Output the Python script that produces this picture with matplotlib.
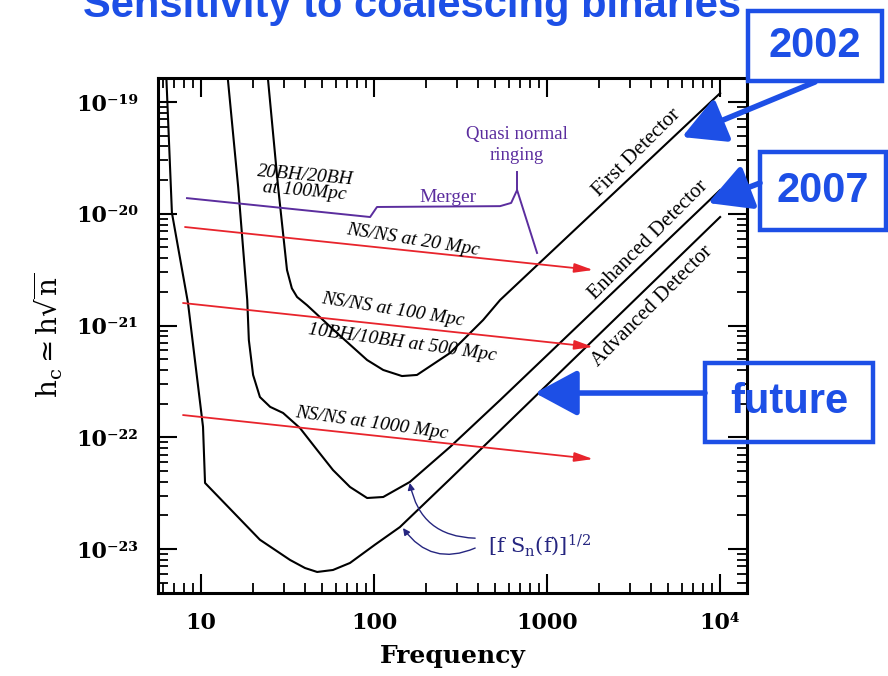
import numpy as np
import matplotlib.pyplot as plt
from matplotlib.patches import Rectangle, FancyArrowPatch
from matplotlib.ticker import LogLocator, NullFormatter

# detector noise curves, h_c vs frequency (Hz)
first_f = [23.8, 27.9, 31.4, 33.5, 35.9, 41.0, 61.1, 91.2, 113, 145, 177, 275, 427, 535, 10000]
first_h = [2.38e-19, 1.73e-20, 3.14e-21, 2.15e-21, 1.80e-21, 1.52e-21, 8.57e-22, 4.91e-22,
           4.00e-22, 3.53e-22, 3.61e-22, 5.68e-22, 1.12e-21, 1.69e-21, 1.20e-19]

enh_f = [13.95, 16.4, 18.5, 18.9, 20.0, 21.9, 25.1, 29.8, 37.3, 46.9, 57.9, 72.6, 91.2, 113,
         161, 275, 535, 10000]
enh_h = [2.38e-19, 1.73e-20, 1.69e-21, 7.41e-22, 3.61e-22, 2.29e-22, 1.87e-22, 1.65e-22,
         1.21e-22, 7.69e-23, 5.09e-23, 3.59e-23, 2.86e-23, 2.92e-23, 3.98e-23, 8.19e-23,
         2.15e-22, 1.63e-20]

adv_f = [6.28, 6.79, 8.41, 10.27, 10.55, 21.9, 32.7, 39.9, 46.9, 57.9, 72.6, 101, 141, 275, 10000]
adv_h = [1.93e-19, 1.02e-20, 1.59e-21, 1.24e-22, 3.90e-23, 1.21e-23, 7.98e-24, 6.76e-24,
         6.23e-24, 6.49e-24, 7.50e-24, 1.09e-23, 1.57e-23, 4.23e-23, 9.35e-21]

# NS/NS inspiral tracks (start -> end)
ns_start_f = [8.08, 7.87, 7.87]
ns_start_h = [7.61e-21, 1.59e-21, 1.58e-22]
ns_end_f = [1845, 1845, 1845]
ns_end_h = [3.14e-21, 6.43e-22, 6.38e-23]

# 20BH/20BH inspiral + merger + ringdown
bh_f = [8.30, 94.9, 104, 535, 620, 671, 875]
bh_h = [1.38e-20, 9.35e-21, 1.15e-20, 1.17e-20, 1.25e-20, 1.63e-20, 4.46e-21]
ring_f = [671, 671]
ring_h = [1.63e-20, 2.37e-20]

xticks = [10, 100, 1000, 1e4]
xticklabels = ['10', '100', '1000', '10\u2074']
yticks = [1e-23, 1e-22, 1e-21, 1e-20, 1e-19]
yticklabels = ['10\u207b\u00b2\u00b3', '10\u207b\u00b2\u00b2', '10\u207b\u00b2\u00b9',
               '10\u207b\u00b2\u2070', '10\u207b\u00b9\u2079']

plt.rcParams['mathtext.fontset'] = 'dejavuserif'
blue = '#1d4fe6'
red = '#e8242c'
purple = '#5b2d9e'
navy = '#262680'

fig = plt.figure(figsize=(8.88, 6.76), dpi=100)
ax = fig.add_axes([0.1779, 0.1228, 0.6633, 0.7618])
ax.set_xscale('log')
ax.set_yscale('log')
ax.set_xlim(5.64, 1.43e4)
ax.set_ylim(4.04e-24, 1.64e-19)

ax.plot(first_f, first_h, color='k', lw=1.5)
ax.plot(enh_f, enh_h, color='k', lw=1.5)
ax.plot(adv_f, adv_h, color='k', lw=1.5)

for f0, h0, f1, h1 in zip(ns_start_f, ns_start_h, ns_end_f, ns_end_h):
    ax.annotate('', xy=(f1, h1), xytext=(f0, h0),
                arrowprops=dict(arrowstyle='-|>,head_length=0.8,head_width=0.2', color=red,
                                lw=1.3, mutation_scale=14, shrinkA=0, shrinkB=0))

ax.plot(bh_f, bh_h, color=purple, lw=1.4)
ax.plot(ring_f, ring_h, color=purple, lw=1.4)

serif_it = dict(family='Liberation Serif', style='italic', fontsize=14)
ax.text(39.9, 1.88e-20, '20BH/20BH\nat 100Mpc', ha='center', va='center', rotation=-5,
        linespacing=0.9, **serif_it)
ax.text(268, 1.41e-20, 'Merger', ha='center', va='center', color=purple,
        family='Liberation Serif', fontsize=14)
ax.text(671, 4.12e-20, 'Quasi normal\nringing', ha='center', va='center', color=purple,
        family='Liberation Serif', fontsize=13.5, linespacing=1.25)
ax.text(168, 5.82e-21, 'NS/NS at 20 Mpc', ha='center', va='center', rotation=-9, **serif_it)
ax.text(129, 1.38e-21, 'NS/NS at 100 Mpc', ha='center', va='center', rotation=-9, **serif_it)
ax.text(145, 6.97e-22, '10BH/10BH at 500 Mpc', ha='center', va='center', rotation=-8, **serif_it)
ax.text(97.3, 1.34e-22, 'NS/NS at 1000 Mpc', ha='center', va='center', rotation=-8, **serif_it)

det = dict(family='Liberation Serif', fontsize=15, rotation=45, rotation_mode='anchor')
ax.text(3311, 3.50e-20, 'First Detector', ha='center', va='center', **det)
ax.text(3837, 5.82e-21, 'Enhanced Detector', ha='center', va='center', **det)
ax.text(4046, 1.47e-21, 'Advanced Detector', ha='center', va='center', **det)

ax.text(912, 1.09e-23, r'$[\mathrm{f\ S_n(f)}]^{1/2}$', ha='center', va='center',
        color=navy, fontsize=15)
ax.annotate('', xy=(161, 3.9e-23), xytext=(384, 1.25e-23),
            arrowprops=dict(arrowstyle='-|>', color=navy, lw=1.0, mutation_scale=10,
                            connectionstyle='arc3,rad=-0.4', shrinkA=0, shrinkB=0))
ax.annotate('', xy=(147, 1.54e-23), xytext=(384, 1.02e-23),
            arrowprops=dict(arrowstyle='-|>', color=navy, lw=1.0, mutation_scale=10,
                            connectionstyle='arc3,rad=-0.4', shrinkA=0, shrinkB=0))

ax.set_xticks(xticks)
ax.set_xticklabels(xticklabels, family='DejaVu Serif', fontweight='bold', fontsize=16)
ax.set_yticks(yticks)
ax.set_yticklabels(yticklabels, family='DejaVu Serif', fontweight='bold', fontsize=16)
ax.xaxis.set_minor_locator(LogLocator(base=10, subs=np.arange(2, 10), numticks=20))
ax.yaxis.set_minor_locator(LogLocator(base=10, subs=np.arange(2, 10), numticks=20))
ax.xaxis.set_minor_formatter(NullFormatter())
ax.yaxis.set_minor_formatter(NullFormatter())
ax.tick_params(which='both', direction='in', top=True, right=True)
ax.tick_params(which='major', length=14, width=1.5, pad=14)
ax.tick_params(which='minor', length=7, width=1.3)
for s in ax.spines.values():
    s.set_linewidth(2.2)

ax.set_xlabel('Frequency', family='DejaVu Serif', fontweight='bold', fontsize=18, labelpad=7)
ax.set_ylabel(r'$\mathrm{h_c \simeq h\sqrt{n}}$', fontsize=20, labelpad=8)

# blue slide annotations
fig.text(0.464, 1 - 17 / 676, 'Sensitivity to coalescing binaries', ha='center',
         va='baseline', fontsize=30, fontweight='bold', color=blue, family='Liberation Sans')

boxes = [((0.8423, 0.8802), 0.1509, 0.1035, '2002'),
         ((0.8559, 0.6598), 0.1419, 0.1154, '2007'),
         ((0.7939, 0.3462), 0.1892, 0.1169, 'future')]
for (x0, y0), w, h, label in boxes:
    fig.patches.append(Rectangle((x0, y0), w, h, transform=fig.transFigure, fill=False,
                                 edgecolor=blue, lw=3.2))
    fig.text(x0 + w / 2, y0 + h / 2, label, ha='center', va='center', fontsize=30,
             fontweight='bold', color=blue, family='Liberation Sans')

arrows = [((0.9178, 0.8787), (0.768, 0.7973)),
          ((0.8559, 0.7293), (0.7973, 0.6997)),
          ((0.7939, 0.4186), (0.6025, 0.4186))]
for start, end in arrows:
    fig.patches.append(FancyArrowPatch(start, end, transform=fig.transFigure,
                                       arrowstyle='-|>,head_length=1.3,head_width=0.7',
                                       mutation_scale=20, color=blue, lw=4,
                                       shrinkA=0, shrinkB=0))

fig.savefig('out.png', dpi=100)
